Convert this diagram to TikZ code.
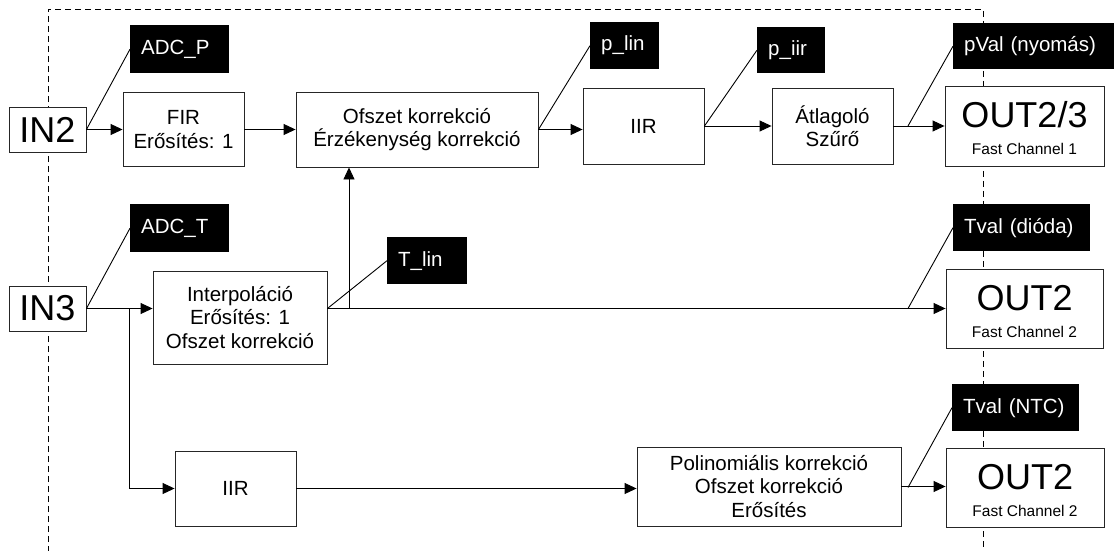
\documentclass[tikz,border=0pt]{standalone}
\usepackage{fontspec}
\setmainfont{Liberation Sans}
\usetikzlibrary{arrows.meta}
\begin{document}
\begin{tikzpicture}[x=1pt,y=-1pt,
  every node/.style={font=\fontsize{20.5}{23.5}\selectfont, inner sep=0pt},
  box/.style={draw=black!85, line width=0.9pt, fill=white, align=center},
  tag/.style={fill=black, text=white, anchor=north west, align=left, inner xsep=11pt, inner ysep=0pt},
  bigtxt/.style={font=\fontsize{36}{40}\selectfont},
  smalltxt/.style={font=\fontsize{15.5}{18}\selectfont, anchor=base},
  conn/.style={line width=0.9pt, black},
  arr/.style={conn, -{Triangle[length=12pt,width=11pt]}},
  frame/.style={line width=0.9pt, dash pattern=on 6pt off 4pt}]

% canvas
\fill[white] (0,0) rectangle (1114,551);
\useasboundingbox (0,0) rectangle (1114,551);

% dashed enclosure (open at the bottom)
\draw[frame] (48,552) -- (48,9) -- (983,9) -- (983,552);

% ---- pressure channel ----
\node[box, bigtxt, minimum width=77pt, minimum height=45pt] (in2) at (47.5,129.5) {IN2};
\node[box, minimum width=121pt, minimum height=74pt] (fir) at (183.5,129.5) {FIR\\Erősítés: 1};
\node[box, minimum width=242pt, minimum height=75pt] (ofs) at (417,129.5) {Ofszet korrekció\\Érzékenység korrekció};
\node[box, minimum width=121pt, minimum height=76pt] (iira) at (643.5,126) {IIR};
\node[box, minimum width=121pt, minimum height=76pt] (atl) at (832.5,126) {Átlagoló\\Szűrő};
\node[box, minimum width=159pt, minimum height=80pt] (outa) at (1024.5,126) {};
\node[bigtxt, anchor=base] (outat) at (1024.5,127) {OUT2/3};
\node[smalltxt] (outas) at (1024.5,154) {Fast Channel 1};

\node[tag, text width=77pt, minimum height=48pt] (adcp) at (130,25) {ADC\_P};
\node[tag, text width=47pt, minimum height=47pt] (plin) at (590,22) {p\_lin};
\node[tag, text width=46pt, minimum height=46pt] (piir) at (757,27) {p\_iir};
\node[tag, text width=141pt, minimum height=46pt] (pval) at (953,23) {pVal (nyomás)};

% ---- temperature channels ----
\node[box, bigtxt, minimum width=77pt, minimum height=45pt] (in3) at (47.5,308.5) {IN3};
\node[box, minimum width=174pt, minimum height=93pt] (interp) at (240,317.5) {Interpoláció\\Erősítés: 1\\Ofszet korrekció};
\node[box, minimum width=157pt, minimum height=79pt] (outb) at (1024.5,308.5) {};
\node[bigtxt, anchor=base] (outbt) at (1024.5,310) {OUT2};
\node[smalltxt] (outbs) at (1024.5,337) {Fast Channel 2};

\node[tag, text width=77pt, minimum height=48pt] (adct) at (130,204) {ADC\_T};
\node[tag, text width=58pt, minimum height=47pt] (tlin) at (387,237) {T\_lin};
\node[tag, text width=115pt, minimum height=47pt] (tvald) at (953,204) {Tval (dióda)};

\node[box, minimum width=121pt, minimum height=75pt] (iirb) at (235.5,488.5) {IIR};
\node[box, minimum width=264pt, minimum height=79pt] (poli) at (769,486.5) {Polinomiális korrekció\\Ofszet korrekció\\Erősítés};
\node[box, minimum width=158pt, minimum height=79pt] (outc) at (1025,487.5) {};
\node[bigtxt, anchor=base] (outct) at (1025,489) {OUT2};
\node[smalltxt] (outcs) at (1025,516) {Fast Channel 2};
\node[tag, text width=105pt, minimum height=47pt] (tvaln) at (952,384) {Tval (NTC)};

% ---- junction points ----
\coordinate (tapa) at (908,126);
\coordinate (split) at (129,308.5);
\coordinate (iout) at (interp.east |- in3.east);
\coordinate (rise) at (349,308.5);
\coordinate (tapb) at (908,308.5);
\coordinate (tapc) at (908,487.5);

% ---- signal flow ----
\draw[arr] (in2.east) -- (fir.west);
\draw[arr] (fir.east) -- (ofs.west);
\draw[arr] (ofs.east) -- (ofs.east -| iira.west);
\draw[arr] (iira.east) -- (atl.west);
\draw[arr] (atl.east) -- (outa.west);

\draw[arr] (in3.east) -- (in3.east -| interp.west);
\draw[arr] (iout) -- (iout -| outb.west);
\draw[arr] (rise) -- (rise |- ofs.south);
\draw[arr] (split) |- (iirb.west);
\draw[arr] (iirb.east) -- (iirb.east -| poli.west);
\draw[arr] (poli.east) -- (poli.east -| outc.west);

% ---- probe leaders ----
\draw[conn] (in2.east) -- (adcp.west);
\draw[conn] (ofs.east) -- (plin.west);
\draw[conn] (iira.east) -- (piir.west);
\draw[conn] (tapa) -- (pval.west);
\draw[conn] (in3.east) -- (adct.west);
\draw[conn] (iout) -- (tlin.west);
\draw[conn] (tapb) -- (tvald.west);
\draw[conn] (tapc) -- (tvaln.west);
\end{tikzpicture}
\end{document}
